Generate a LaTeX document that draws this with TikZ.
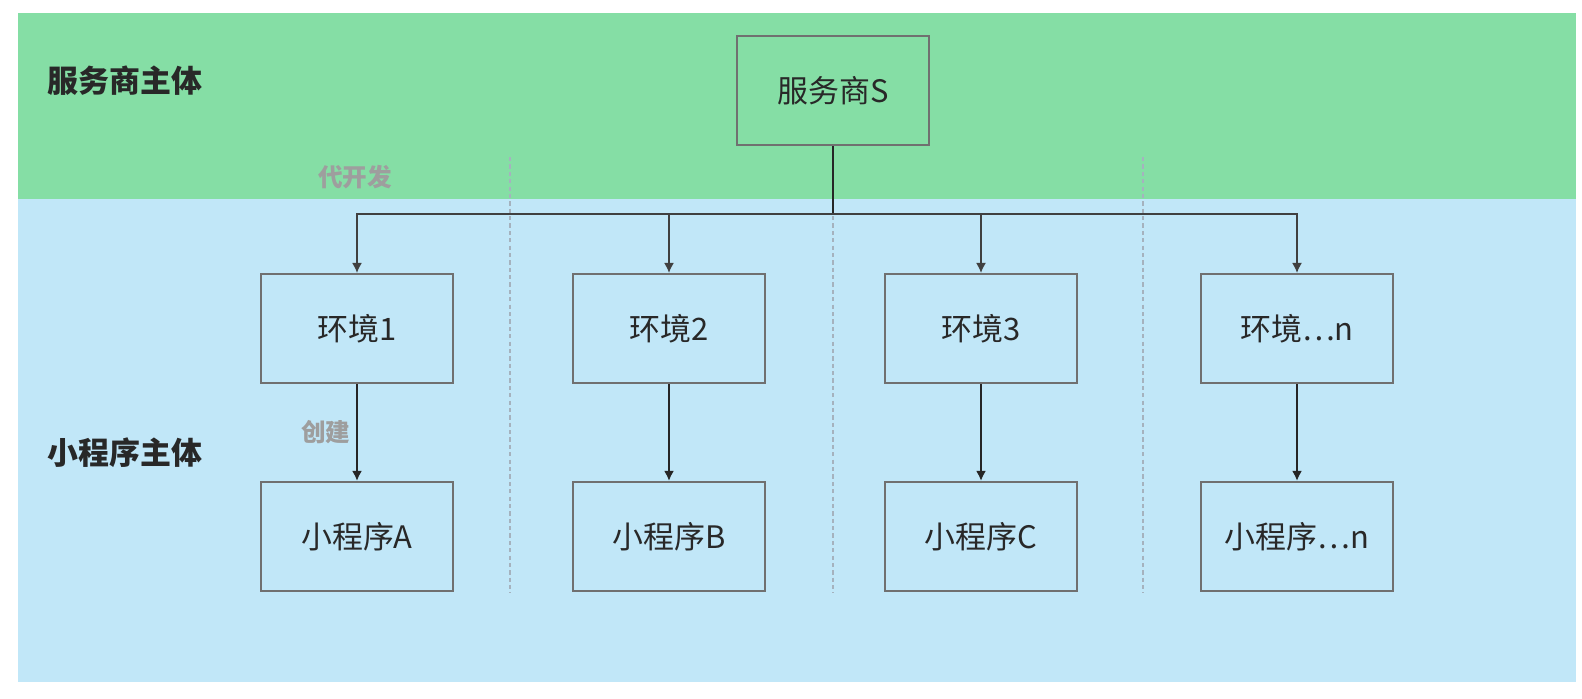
\documentclass[tikz,border=0pt]{standalone}
\usepackage{fontspec}
\setmainfont{Noto Sans CJK SC}
\usetikzlibrary{arrows.meta,positioning,calc}

\definecolor{svcgreen}{RGB}{133,222,165}
\definecolor{appblue}{RGB}{193,231,248}
\definecolor{boxline}{RGB}{112,112,112}
\definecolor{tipgray}{RGB}{158,158,158}
\definecolor{sepgray}{RGB}{165,178,190}
\definecolor{inkdark}{RGB}{40,40,40}

\begin{document}
\begin{tikzpicture}[
  box/.style={rectangle, draw=boxline, line width=0.6pt, minimum width=1.92cm,
    minimum height=1.09cm, inner sep=0pt, text=inkdark, font=\fontsize{8.8pt}{10pt}\selectfont},
  band/.style={anchor=west, inner sep=0pt, text=inkdark, font=\fontsize{8.8pt}{10pt}\selectfont\bfseries},
  tip/.style={text=tipgray, inner sep=0pt, font=\fontsize{7pt}{8pt}\selectfont\bfseries},
  feed/.style={-{Latex[length=1mm,width=1mm]}, line width=0.45pt, draw=black!75},
  msg/.style={-{Latex[length=1mm,width=1mm]}, line width=0.65pt, draw=black!85},
  sep/.style={dash pattern=on 1.2pt off 0.9pt, sepgray, line width=0.45pt}
]
\useasboundingbox (0,0) rectangle (15.82,-6.98);

% Bands
\fill[svcgreen] (0.18,-0.13) rectangle (15.76,-1.99);
\fill[appblue] (0.18,-1.99) rectangle (15.76,-6.82);
\node[band] (svcband) at (0.47,-0.81) {服务商主体};
\node[band] (appband) at (0.47,-4.53) {小程序主体};

% Separators
\foreach \x in {5.10, 8.33, 11.43} {
  \draw[sep] (\x,-1.57) -- (\x,-5.93);
}

% Boxes
\node[box] (svc) at (8.33,-0.905) {服务商S};
\node[box] (env1) at (3.57,-3.285) {环境1};
\node[box] (env2) at (6.69,-3.285) {环境2};
\node[box] (env3) at (9.81,-3.285) {环境3};
\node[box] (env4) at (12.97,-3.285) {环境…n};
\node[box] (app1) at (3.57,-5.365) {小程序A};
\node[box] (app2) at (6.69,-5.365) {小程序B};
\node[box] (app3) at (9.81,-5.365) {小程序C};
\node[box] (app4) at (12.97,-5.365) {小程序…n};

% Links
\coordinate (hub) at (8.33,-2.14);
\draw[line width=0.65pt, black!85] (svc.south) -- (hub);
\foreach \i in {1,...,4} {
  \draw[feed] (hub) -| (env\i.north);
  \draw[msg] (env\i.south) -- (app\i.north);
}

% Notes
\node[tip] (dev) at (3.55,-1.77) {代开发};
\node[tip, left=0.06cm of $(env1.south)!0.5!(app1.north)$] (make) {创建};

\end{tikzpicture}
\end{document}
